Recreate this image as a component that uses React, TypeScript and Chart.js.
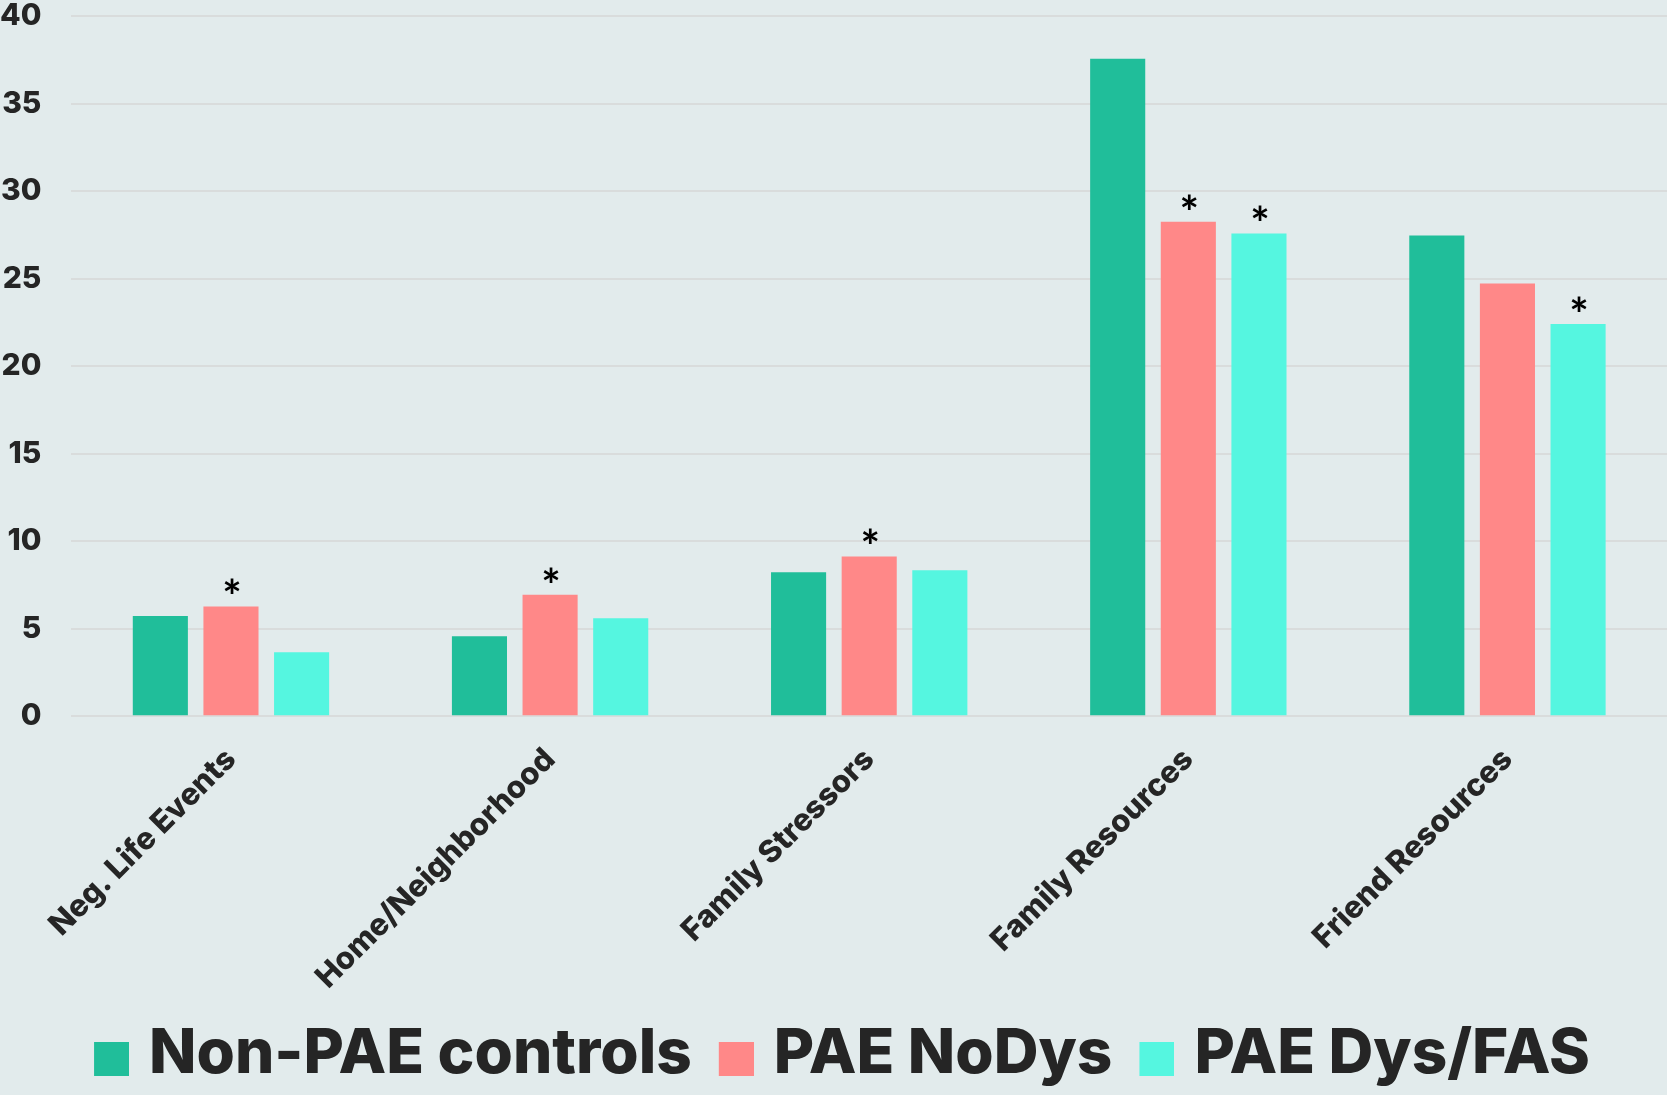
import React, { useEffect, useRef } from "react";
import { Chart, registerables } from "chart.js";

Chart.register(...registerables);

const categories = [
  "Neg. Life Events",
  "Home/Neighborhood",
  "Family Stressors",
  "Family Resources",
  "Friend Resources",
];
const seriesNames = ["Non-PAE controls", "PAE NoDys", "PAE Dys/FAS"];
const nonPaeControls = [5.72, 4.57, 8.22, 37.56, 27.46];
const paeNoDys = [6.27, 6.94, 9.13, 28.25, 24.72];
const paeDysFas = [3.65, 5.6, 8.34, 27.58, 22.4];
const sigNonPae = [false, false, false, false, false];
const sigNoDys = [true, true, true, true, false];
const sigDysFas = [false, false, false, true, true];
const colors = ["#20be9a", "#ff8888", "#55f6e0"];
const yTicks = [0, 5, 10, 15, 20, 25, 30, 35, 40];

const FONT = "Inter, Lato, sans-serif";
const W = 800;
const TEXT = "#252525";
const BG = "#e2ebec";

const LEGEND_SIZE = 62;
const LEGEND_PAD = 10;
const POINT_W = 41;
const SW_W = 35;
const SW_H = 34;
const SW_GAP = 20;

function makeLegendSwatch(color: string) {
  // square swatch placed so that it ends SW_GAP px before the label text
  const half = POINT_W / 2 + LEGEND_SIZE / 2 - SW_GAP;
  const c = document.createElement("canvas");
  c.width = Math.round(half * 2);
  c.height = SW_H + 10;
  const g = c.getContext("2d")!;
  g.fillStyle = color;
  g.fillRect(c.width - SW_W, 10, SW_W, SW_H);
  return c;
}

const asteriskPlugin = {
  id: "asterisks",
  afterDatasetsDraw(chart: any) {
    const flags = [sigNonPae, sigNoDys, sigDysFas];
    const ctx = chart.ctx;
    ctx.save();
    ctx.fillStyle = "#000";
    ctx.font = `bold 46px Lato, sans-serif`;
    ctx.textAlign = "center";
    ctx.textBaseline = "alphabetic";
    chart.data.datasets.forEach((_: any, i: number) => {
      const meta = chart.getDatasetMeta(i);
      meta.data.forEach((bar: any, j: number) => {
        if (flags[i][j]) {
          ctx.fillText("*", bar.x + 1, bar.y + 7);
        }
      });
    });
    ctx.restore();
  },
};

export default function App() {
  const ref = useRef<HTMLCanvasElement | null>(null);
  useEffect(() => {
    document.body.style.margin = "0";
    document.body.style.background = BG;
    const canvas = ref.current!;
    const swatches = colors.map(makeLegendSwatch);
    const chart = new Chart(canvas, {
      type: "bar",
      data: {
        labels: categories,
        datasets: [
          { label: seriesNames[0], data: nonPaeControls, backgroundColor: colors[0] },
          { label: seriesNames[1], data: paeNoDys, backgroundColor: colors[1] },
          { label: seriesNames[2], data: paeDysFas, backgroundColor: colors[2] },
        ],
      },
      options: {
        responsive: false,
        animation: false,
        maintainAspectRatio: false,
        layout: { padding: { top: 0, right: 0, bottom: 0, left: 0 } },
        datasets: {
          bar: { categoryPercentage: 0.664, barPercentage: 0.78 },
        },
        plugins: {
          tooltip: { enabled: false },
          legend: {
            position: "bottom",
            labels: {
              color: TEXT,
              font: { family: FONT, weight: W, size: LEGEND_SIZE },
              usePointStyle: true,
              pointStyleWidth: POINT_W,
              boxHeight: SW_H,
              padding: LEGEND_PAD,
              generateLabels(chart: any) {
                const items = Chart.defaults.plugins.legend.labels.generateLabels(chart);
                return items.map((it: any, i: number) => ({ ...it, pointStyle: swatches[i] }));
              },
            },
          },
        },
        scales: {
          x: {
            grid: { display: false },
            border: { display: false },
            ticks: {
              color: TEXT,
              font: { family: FONT, weight: W, size: 31 },
              minRotation: 45,
              maxRotation: 45,
              padding: 17,
            },
            afterFit(axis: any) {
              axis.paddingLeft = 0;
              axis.paddingRight = 0;
            },
          },
          y: {
            min: 0,
            max: 40,
            afterBuildTicks(axis: any) {
              axis.ticks = yTicks.map((v) => ({ value: v }));
            },
            afterFit(axis: any) {
              axis.paddingTop = 16;
              axis.paddingBottom = 16;
              axis.width = axis.width - 30;
            },
            border: { display: false },
            grid: { color: "#d9dcdc", lineWidth: 2, drawTicks: false },
            ticks: {
              color: TEXT,
              font: { family: FONT, weight: W, size: 30 },
              padding: 30,
            },
          },
        },
      },
      plugins: [asteriskPlugin],
    });
    return () => chart.destroy();
  }, []);
  return (
    <div style={{ width: 1667, height: 1095, background: BG }}>
      <canvas ref={ref} width={1667} height={1095} style={{ display: "block" }} />
    </div>
  );
}
